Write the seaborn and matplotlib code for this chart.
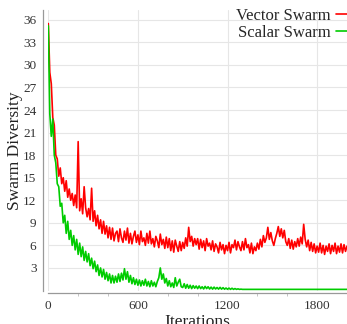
import numpy as np
import pandas as pd
import seaborn as sns
import matplotlib
matplotlib.use("Agg")
import matplotlib.pyplot as plt
from matplotlib.ticker import MultipleLocator

# 每 10 次迭代读取一次的数值
iterations = list(range(0, 2001, 10))

vector_swarm = [
    35.5, 29.0, 27.5, 23.0, 22.0, 18.0, 17.5, 15.2, 16.3, 14.2,
    15.0, 13.2, 14.6, 12.4, 13.5, 12.0, 12.9, 11.3, 12.7, 11.0,
    19.8, 10.6, 12.2, 10.2, 13.8, 11.0, 9.8, 10.9, 9.4, 13.6,
    9.2, 10.6, 8.6, 10.0, 8.2, 9.4, 7.6, 9.2, 7.5, 8.6,
    7.0, 8.4, 6.8, 8.3, 6.6, 7.6, 7.9, 6.5, 8.2, 7.0,
    6.4, 7.9, 6.7, 8.3, 6.3, 7.6, 6.2, 7.2, 7.9, 6.4,
    7.4, 6.1, 7.9, 6.5, 7.0, 6.0, 7.6, 6.3, 7.9, 6.2,
    6.9, 5.8, 7.2, 6.6, 5.7, 7.5, 6.1, 6.8, 5.6, 7.1,
    5.7, 6.9, 5.3, 6.6, 5.1, 6.7, 5.9, 5.2, 6.5, 5.3,
    6.4, 5.6, 7.0, 5.9, 8.4, 6.5, 7.2, 5.9, 6.9, 6.1,
    6.9, 5.5, 6.8, 5.7, 6.6, 5.3, 6.9, 5.9, 6.3, 5.4,
    6.6, 5.2, 6.2, 5.8, 5.0, 6.4, 5.4, 6.1, 4.9, 6.0,
    5.3, 6.4, 5.0, 6.1, 5.7, 6.7, 5.4, 6.5, 5.8, 5.3,
    6.5, 5.4, 6.9, 5.7, 6.1, 5.0, 6.3, 4.9, 5.8, 5.3,
    6.3, 5.5, 6.8, 5.8, 7.3, 6.4, 7.0, 8.4, 6.8, 7.7,
    6.6, 6.0, 6.9, 7.6, 8.5, 7.2, 8.2, 7.0, 8.0, 6.5,
    6.0, 6.9, 5.6, 6.7, 5.5, 6.5, 5.8, 6.9, 5.9, 7.1,
    6.2, 8.8, 6.8, 5.8, 6.7, 5.3, 6.4, 5.2, 6.2, 5.0,
    5.9, 5.1, 6.3, 5.0, 6.0, 4.8, 5.9, 5.2, 6.2, 4.9,
    6.0, 5.2, 6.3, 4.9, 5.9, 5.1, 6.2, 5.0, 6.1, 5.2,
    5.9,
]

scalar_swarm = [
    35.2, 23.5, 20.5, 22.8, 18.0, 17.0, 14.2, 13.8, 11.2, 11.6,
    9.0, 10.0, 7.6, 9.2, 6.8, 8.0, 6.0, 7.3, 5.4, 6.8,
    4.8, 6.3, 4.5, 5.8, 4.0, 5.2, 3.8, 4.9, 3.3, 4.3,
    2.9, 3.9, 2.5, 3.4, 2.0, 3.0, 1.8, 2.8, 1.5, 2.4,
    1.3, 2.2, 1.0, 2.0, 1.0, 1.9, 1.1, 2.2, 1.2, 2.3,
    1.4, 2.9, 1.5, 2.5, 1.1, 2.0, 0.9, 1.7, 0.8, 1.5,
    0.7, 1.4, 0.6, 1.3, 0.7, 1.5, 0.6, 1.2, 0.5, 1.3,
    0.6, 1.1, 0.5, 1.2, 1.7, 3.0, 1.5, 2.2, 1.0, 1.6,
    0.6, 1.3, 0.5, 1.0, 0.4, 1.7, 0.6, 1.1, 1.5, 0.5,
    0.4, 0.9, 0.3, 0.8, 0.3, 0.7, 0.25, 0.65, 0.3, 0.6,
    0.25, 0.6, 0.25, 0.5, 0.2, 0.55, 0.25, 0.5, 0.2, 0.45,
    0.18, 0.45, 0.2, 0.4, 0.18, 0.42, 0.18, 0.38, 0.17, 0.33,
    0.16, 0.32, 0.15, 0.3, 0.15, 0.26, 0.15, 0.22, 0.15, 0.18,
] + [0.15] * 71

series_names = ["Vector Swarm", "Scalar Swarm"]
series_colors = ["#ff0000", "#00cc00"]

df = pd.DataFrame({
    "Iterations": iterations * 2,
    "Swarm Diversity": vector_swarm + scalar_swarm,
    "Swarm": [series_names[0]] * len(iterations) + [series_names[1]] * len(iterations),
})

sns.set_theme(style="whitegrid")
plt.rcParams["font.family"] = ["Liberation Serif", "DejaVu Serif"]

fig = plt.figure(figsize=(3.47, 3.24), dpi=100)
ax = fig.add_axes([48.3 / 347, 33.5 / 324, 1 - 48.3 / 347, (290.5 - 10) / 324])

sns.lineplot(data=df, x="Iterations", y="Swarm Diversity", hue="Swarm",
             palette=series_colors, linewidth=1.2, ax=ax, legend=False)

ax.set_xlim(0, 2000)
ax.set_ylim(0, 37.3)
ax.xaxis.set_major_locator(MultipleLocator(600))
ax.xaxis.set_minor_locator(MultipleLocator(200))
ax.set_yticks(np.arange(3, 37, 3))
ax.grid(True, which="major", color="#e6e6e6", linewidth=0.8)
ax.grid(False, which="minor")

for side in ["top", "right"]:
    ax.spines[side].set_visible(False)
ax.spines["left"].set_position(("outward", 3.5))
ax.spines["bottom"].set_position(("outward", 2))
for side in ["left", "bottom"]:
    ax.spines[side].set_color("#999999")
    ax.spines[side].set_linewidth(0.9)

ax.tick_params(axis="both", which="major", direction="out", length=3, width=0.7,
               color="#999999", labelsize=9.5, labelcolor="#333333", pad=2)
ax.tick_params(axis="x", which="minor", direction="out", length=2, width=0.6,
               color="#bbbbbb", bottom=True)
ax.tick_params(axis="x", which="major", length=4, pad=1)

ax.set_xlabel("Iterations", fontsize=12.5, labelpad=1.5, color="#222222")
ax.set_ylabel("Swarm Diversity", fontsize=12.5, labelpad=0, color="#222222")

handles = [plt.Line2D([], [], color=c, linewidth=1.2) for c in series_colors]
fig.legend(handles, series_names, loc="upper right", bbox_to_anchor=(1.03, 0.975),
           frameon=False, markerfirst=False, fontsize=12, handlelength=1.3,
           handletextpad=0.3, labelspacing=0.05, borderpad=0, borderaxespad=0)

fig.savefig("out.png", dpi=100)
